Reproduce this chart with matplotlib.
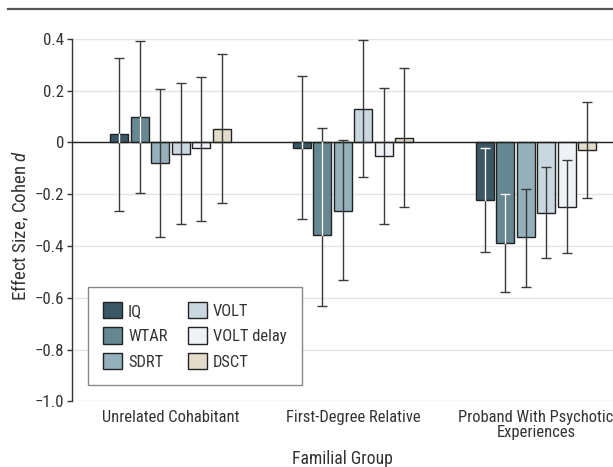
import matplotlib
matplotlib.use("Agg")
import matplotlib.pyplot as plt
import numpy as np
from matplotlib.lines import Line2D
from matplotlib.ticker import FuncFormatter, FixedLocator
from matplotlib import font_manager

entries = font_manager.fontManager.ttflist
names = {f.name for f in entries}
family = None
stretch = "normal"
for cand in ["Liberation Sans Narrow", "Roboto Condensed", "Open Sans Condensed", "Noto Sans Condensed",
             "DejaVu Sans Condensed"]:
    if cand in names:
        family = cand
        break
if family is None:
    for fam_name in ["Noto Sans", "Open Sans", "Roboto", "DejaVu Sans"]:
        if any(f.name == fam_name and str(f.stretch) in ("condensed", "semi-condensed") for f in entries):
            family = fam_name
            stretch = "condensed"
            break
if family is None:
    family = "Open Sans"
plt.rcParams['font.family'] = [family, 'DejaVu Sans']
plt.rcParams['font.stretch'] = stretch
plt.rcParams['mathtext.fontset'] = 'custom'
plt.rcParams['mathtext.it'] = family + ':italic'
plt.rcParams['mathtext.rm'] = family

groups = ["Unrelated Cohabitant", "First-Degree Relative", "Proband With Psychotic\nExperiences"]
series = ["IQ", "WTAR", "SDRT", "VOLT", "VOLT delay", "DSCT"]
colors = ["#3a5866", "#668892", "#93b0bb", "#c9d8df", "#eef2f6", "#e4dccb"]

# effect sizes per series (one value per group)
values = {
    "IQ":         [0.031, -0.021, -0.224],
    "WTAR":       [0.097, -0.356, -0.388],
    "SDRT":       [-0.080, -0.263, -0.367],
    "VOLT":       [-0.043, 0.129, -0.271],
    "VOLT delay": [-0.023, -0.052, -0.249],
    "DSCT":       [0.053, 0.017, -0.028],
}
ci_low = {
    "IQ":         [-0.263, -0.296, -0.423],
    "WTAR":       [-0.195, -0.631, -0.577],
    "SDRT":       [-0.365, -0.531, -0.558],
    "VOLT":       [-0.314, -0.134, -0.447],
    "VOLT delay": [-0.303, -0.315, -0.428],
    "DSCT":       [-0.233, -0.251, -0.214],
}
ci_high = {
    "IQ":         [0.327, 0.255, -0.023],
    "WTAR":       [0.390, 0.055, -0.201],
    "SDRT":       [0.207, 0.008, -0.180],
    "VOLT":       [0.230, 0.394, -0.094],
    "VOLT delay": [0.254, 0.212, -0.066],
    "DSCT":       [0.340, 0.286, 0.155],
}
yticks = [0.4, 0.2, 0.0, -0.2, -0.4, -0.6, -0.8, -1.0]

W, H = 613, 467
fig = plt.figure(figsize=(W / 100, H / 100), dpi=100)
renderer = fig.canvas.get_renderer()


def measure(text, size):
    t = fig.text(0, 0, text, fontsize=size)
    bb = t.get_window_extent(renderer)
    t.remove()
    return bb.width, bb.height


def fit(text, target_px):
    return 10.0 * target_px / measure(text, 10)[0]


fs_xt = fit("Unrelated Cohabitant", 137)
fs_yl = fit("Effect Size, Cohen d", 148)
fs_xl = fit("Familial Group", 101)
fs_leg = fit("VOLT delay", 74)
fs_yt = fit("\u22121.0", 29)

# axes in pixel terms
ax_l, ax_r, ax_t, ax_b = 72, 613, 38.9, 401.3
ax = fig.add_axes([ax_l / W, 1 - ax_b / H, (ax_r - ax_l) / W, (ax_b - ax_t) / H])

unit = 182.85      # px per group
c0 = 170.35        # px of first group centre
step = 20.5 / unit
width = 18.0 / unit
capsize = 3.7
x0 = np.arange(len(groups))
for k, s in enumerate(series):
    xs = x0 + (k - 2.5) * step
    v = np.array(values[s])
    lo = np.array(ci_low[s]); hi = np.array(ci_high[s])
    ax.bar(xs, v, width=width, color=colors[k], edgecolor="#222222", linewidth=1.0, zorder=3, label=s)
    ax.errorbar(xs, v, yerr=[v - lo, hi - v], fmt="none", ecolor="#3a3a3a", elinewidth=1.0,
                capsize=capsize, capthick=1.0, zorder=4)
    if k < 2:
        for xi, vi, l, h in zip(xs, v, lo, hi):
            bl, bh = min(0, vi), max(0, vi)
            a, b = max(l, bl), min(h, bh)
            if b > a:
                ax.plot([xi, xi], [a, b], color="white", lw=1.0, zorder=5)
            for c in (l, h):
                if bl < c < bh:
                    ax.plot([xi], [c], marker="_", ms=2 * capsize, mew=1.0, color="white", zorder=5)

ax.axhline(0, color="#222222", lw=1.0, zorder=3)
ax.set_ylim(-1.0, 0.4)
ax.set_xlim((ax_l - c0) / unit, (ax_r - c0) / unit)
ax.yaxis.set_major_locator(FixedLocator(yticks))
ax.yaxis.set_major_formatter(FuncFormatter(lambda v, p: "0" if abs(v) < 1e-9 else f"{v:.1f}".replace("-", "\u2212")))
ax.grid(axis="y", color="#e4e4e4", lw=1.0, zorder=0)
ax.set_axisbelow(True)
for sp in ["top", "right", "bottom"]:
    ax.spines[sp].set_visible(False)
ax.spines["left"].set_color("#333333")
ax.spines["left"].set_linewidth(1.0)
ax.tick_params(axis="y", length=3.5, width=1.0, color="#333333", labelsize=fs_yt, labelcolor="#333333", pad=2)

ax.set_xticks(x0)
ax.set_xticklabels(groups, fontsize=fs_xt, color="#333333", linespacing=1.05)
ax.tick_params(axis="x", length=0, pad=6)

ax.set_xlabel("Familial Group", fontsize=fs_xl, color="#333333")
ax.xaxis.set_label_coords(0.5, (ax_b - 450) / (ax_b - ax_t))
ax.set_ylabel("Effect Size, Cohen $\\mathit{d}$", fontsize=fs_yl, color="#333333")
ax.yaxis.set_label_coords((20 - ax_l) / (ax_r - ax_l), (ax_b - 225) / (ax_b - ax_t))
ax.yaxis.label.set_va("center")

# legend geometry in pixels -> font-size units
fpx = fs_leg * 100 / 72
text_h = measure("VOLT delay", fs_leg)[1]
row_h = max(19.0, text_h)
col1_w = max(measure(t, fs_leg)[0] for t in ["IQ", "WTAR", "SDRT"])
leg = ax.legend(ncol=2, loc="upper left",
                bbox_to_anchor=((88 - ax_l) / (ax_r - ax_l), (ax_b - 287) / (ax_b - ax_t)),
                borderaxespad=0, fontsize=fs_leg,
                handlelength=19 / fpx, handleheight=19 / fpx,
                labelspacing=max(0.0, (25.3 - row_h) / fpx) + 0.14,
                handletextpad=6 / fpx,
                columnspacing=max(0.2, (189 - 129 - col1_w) / fpx),
                borderpad=15 / fpx, fancybox=False,
                framealpha=1, edgecolor="#888888")
leg.get_frame().set_linewidth(1.0)
for t in leg.get_texts():
    t.set_color("#333333")

fig.add_artist(Line2D([8 / W, 1.0], [1 - 9 / H, 1 - 9 / H], color="#555555", lw=1.6))

fig.savefig("out.png", dpi=100)
